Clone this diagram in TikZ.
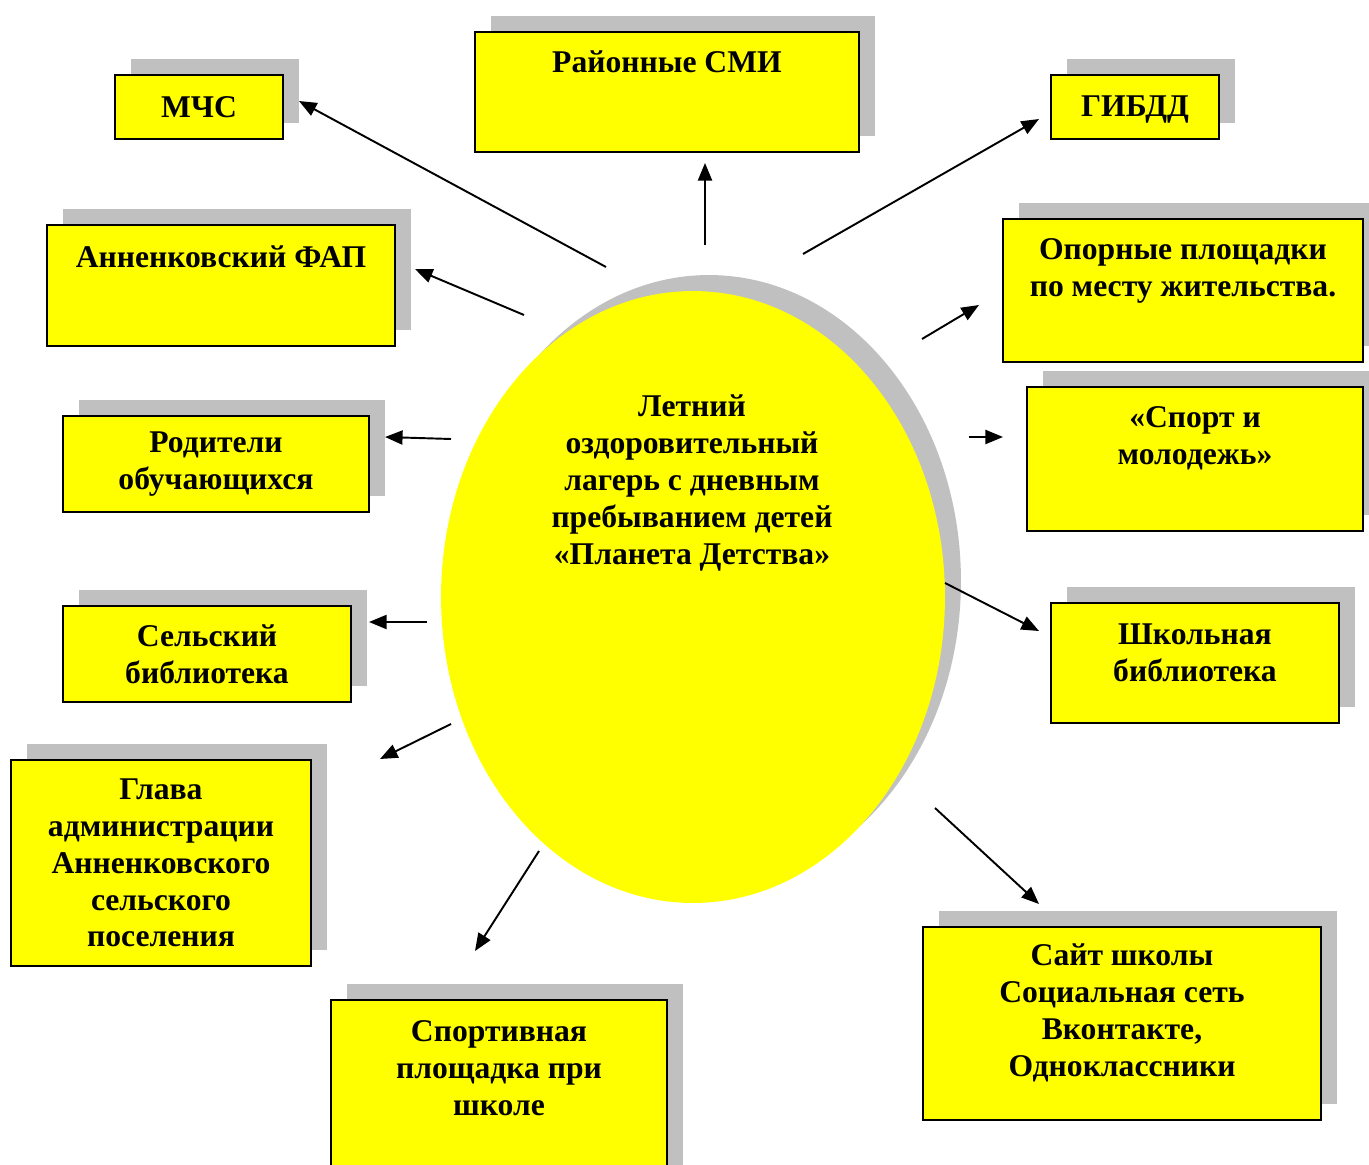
\documentclass[tikz,border=0pt]{standalone}
\usepackage{fontspec}
\setmainfont{Liberation Serif}
\usetikzlibrary{arrows.meta, positioning, fit, shadows, shapes.geometric}
\definecolor{shadowgray}{RGB}{192,192,192}
\definecolor{boxyellow}{RGB}{255,255,0}

\begin{document}
\begin{tikzpicture}[x=0.02cm,y=-0.02cm,>={Triangle[length=10pt,width=8pt]},
      every node/.style={font=\bfseries\fontsize{18}{21}\selectfont, align=center},
      box/.style={draw,line width=1pt,fill=boxyellow,inner sep=0pt,
        drop shadow={shadow xshift=0.32cm,shadow yshift=0.32cm,fill=shadowgray,opacity=1}},
      link/.style={->,line width=1.1pt}]
      \useasboundingbox (0,0) rectangle (1369,1165);
      % centre
      \node[ellipse,fill=boxyellow,inner sep=0pt,minimum width=10.08cm,minimum height=12.24cm,
        drop shadow={shadow xshift=0.32cm,shadow yshift=0.32cm,fill=shadowgray,opacity=1}]
        (camp) at (693,597) {};
      \node (camp_t) at (692,483) {Летний\\оздоровительный\\лагерь с дневным\\пребыванием детей\\«Планета Детства»};
      % boxes
      \node[box,fit={(115,75) (283,139)}] (mchs) {};
      \node (mchs_t) at (mchs.center) {МЧС};
      \node[box,fit={(475,32) (859,152)}] (smi) {};
      \node (smi_t) at (667,62) {Районные СМИ};
      \node[box,fit={(1051,75) (1219,139)}] (gibdd) {};
      \node (gibdd_t) at (1135,110) {ГИБДД};
      \node[box,fit={(47,225) (395,346)}] (fap) {};
      \node (fap_t) at (221,257) {Анненковский ФАП};
      \node[box,fit={(1003,219) (1363,362)}] (opor) {};
      \node (opor_t) at (1183,271) {Опорные площадки\\по месту жительства.};
      \node[box,fit={(63,416) (369,512)}] (rod) {};
      \node (rod_t) at (rod.center) {Родители\\обучающихся};
      \node[box,fit={(1027,387) (1363,531)}] (sport) {};
      \node (sport_t) at (1195,438) {«Спорт и\\молодежь»};
      \node[box,fit={(63,606) (351,702)}] (selsk) {};
      \node (selsk_t) at (selsk.center) {Сельский\\библиотека};
      \node[box,fit={(1051,603) (1339,723)}] (shkol) {};
      \node (shkol_t) at (1195,653) {Школьная\\библиотека};
      \node[box,fit={(11,760) (311,966)}] (glava) {};
      \node (glava_t) at (glava.center) {Глава\\администрации\\Анненковского\\сельского\\поселения};
      \node[box,fit={(331,1000) (667,1185)}] (sportpl) {};
      \node (sportpl_t) at (499,1068) {Спортивная\\площадка при\\школе};
      \node[box,fit={(923,927) (1321,1120)}] (sait) {};
      \node (sait_t) at (1122,1013) {Сайт школы\\Социальная сеть\\Вконтакте,\\Одноклассники};
      % arrow ends
      \coordinate (mchs_s) at (606,267);   \coordinate (mchs_e) at (299,101);
      \coordinate (smi_s) at (705,245);    \coordinate (smi_e) at (705,163);
      \coordinate (gibdd_s) at (803,254);  \coordinate (gibdd_e) at (1039,119);
      \coordinate (fap_s) at (524,315);    \coordinate (fap_e) at (415,269);
      \coordinate (opor_s) at (922,339);   \coordinate (opor_e) at (979,305);
      \coordinate (rod_s) at (451,439);    \coordinate (rod_e) at (385,437);
      \coordinate (sport_s) at (969,437);  \coordinate (sport_e) at (1003,437);
      \coordinate (selsk_s) at (427,622);  \coordinate (selsk_e) at (369,622);
      \coordinate (shkol_s) at (945,583);  \coordinate (shkol_e) at (1039,631);
      \coordinate (glava_s) at (451,724);  \coordinate (glava_e) at (380,759);
      \coordinate (sportpl_s) at (539,851); \coordinate (sportpl_e) at (475,951);
      \coordinate (sait_s) at (935,808);   \coordinate (sait_e) at (1039,904);
      \path[link]
      (mchs_s) edge (mchs_e)
      (smi_s) edge (smi_e)
      (gibdd_s) edge (gibdd_e)
      (fap_s) edge (fap_e)
      (opor_s) edge (opor_e)
      (rod_s) edge (rod_e)
      (sport_s) edge (sport_e)
      (selsk_s) edge (selsk_e)
      (shkol_s) edge (shkol_e)
      (glava_s) edge (glava_e)
      (sportpl_s) edge (sportpl_e)
      (sait_s) edge (sait_e);
    \end{tikzpicture}
\end{document}
